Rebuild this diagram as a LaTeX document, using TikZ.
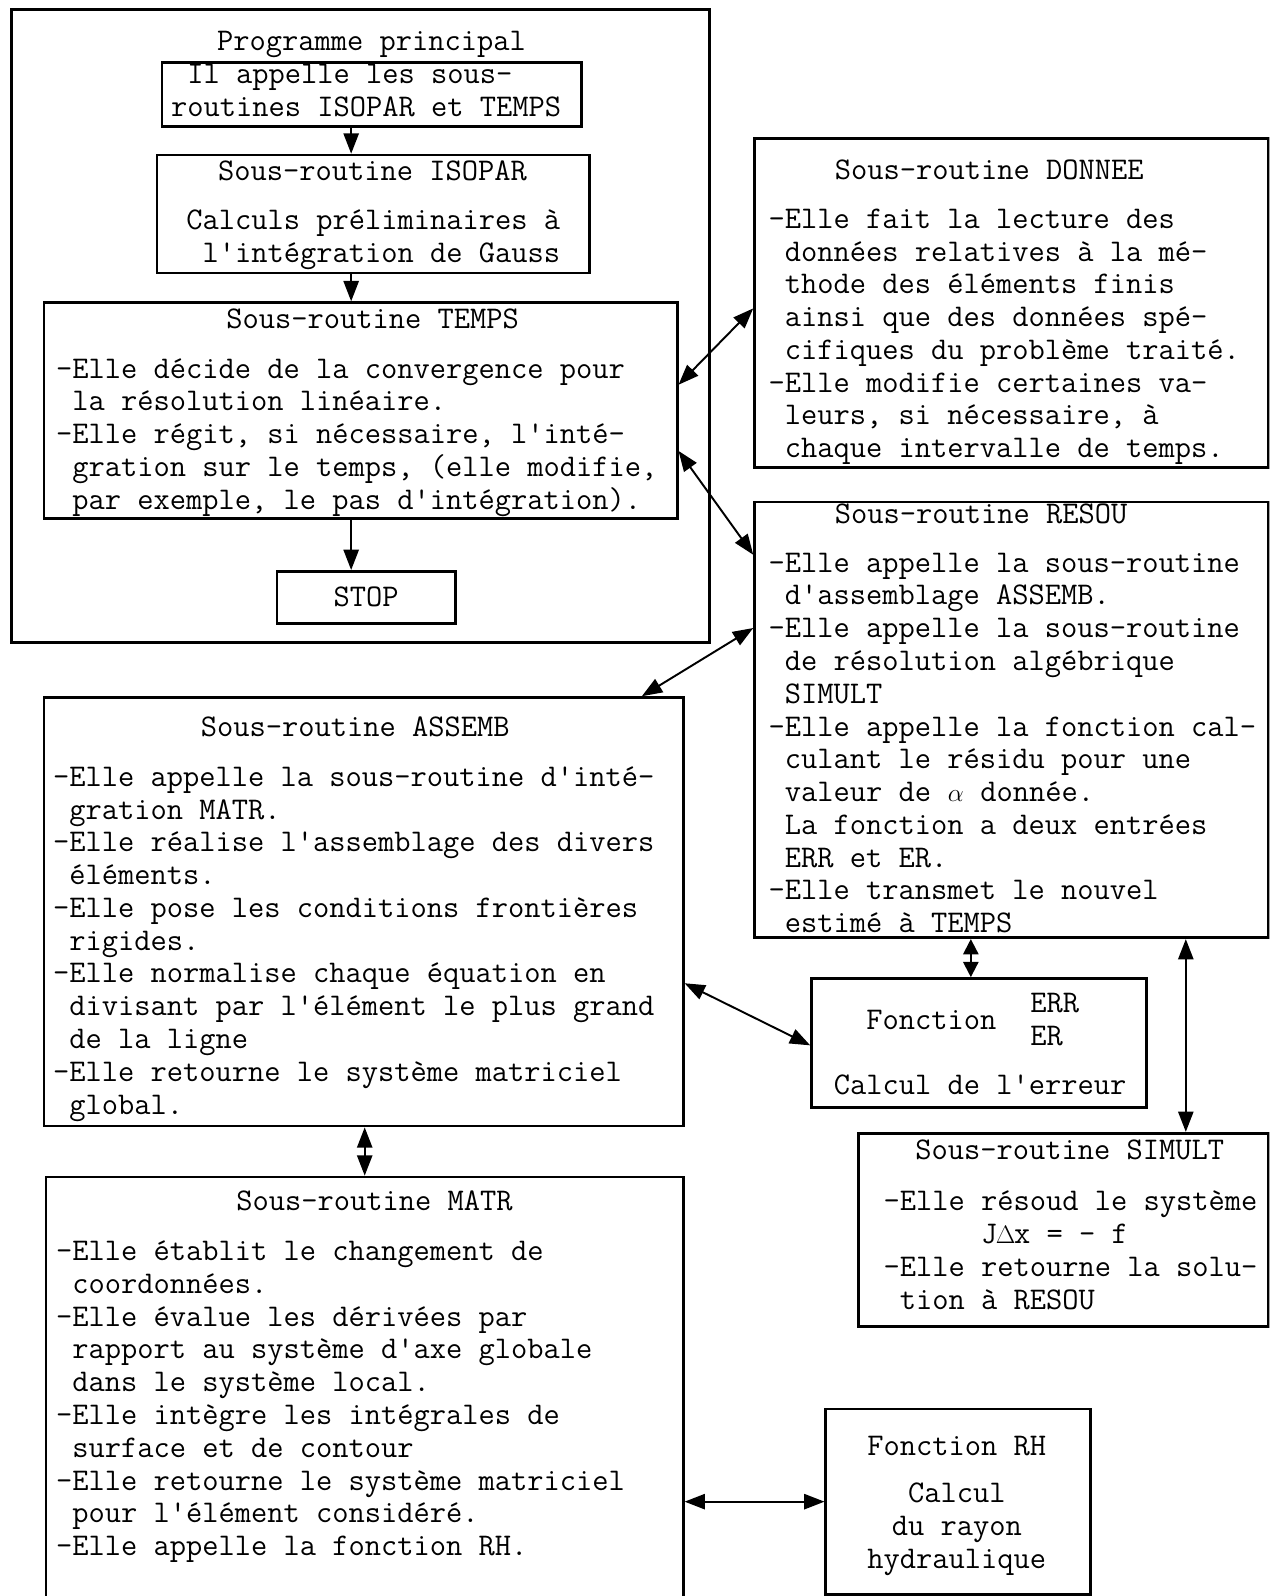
\documentclass[tikz,border=0pt]{standalone}
\usepackage{fontspec}
\usepackage{amsmath}
\usetikzlibrary{arrows.meta, positioning, calc}

\newcommand{\machine}{\fontsize{31}{32.2}\selectfont\ttfamily\addfontfeature{FakeBold=0.6}\frenchspacing}

\begin{document}
\begin{tikzpicture}[
  x=1pt, y=-1pt, >={Triangle[length=20pt, width=15pt]},
  cadre/.style={draw, line width=2.6pt, anchor=north west, inner sep=0pt},
  titre/.style={font=\machine, inner sep=0pt, text height=19pt, text depth=0pt},
  corps/.style={font=\machine, align=left, inner sep=0pt, anchor=north west},
  centre/.style={font=\machine, align=center, inner sep=0pt, anchor=north},
  fleche/.style={->, line width=1.9pt},
  lien/.style={<->, line width=1.9pt},
]
\fill[white] (0,0) rectangle (1247,1568);
\useasboundingbox (0,0) rectangle (1247,1568);
\clip (0,0) rectangle (1247,1568);
% --- Programme principal ---
\node[cadre, minimum width=686, minimum height=622] (prog) at (10,8) {};
\node[titre] (progt) at (365,40) {Programme principal};
\node[cadre, minimum width=412, minimum height=63] (appel) at (158,60) {};
\node[corps] (appelc) at (168,63) {~Il appelle les sous-\\routines ISOPAR et TEMPS};
\node[cadre, minimum width=425, minimum height=116] (isopar) at (153,151) {};
\node[titre] (isopart) at (366,168) {Sous-routine ISOPAR};
\node[corps] (isoparc) at (183,206) {Calculs préliminaires à\\~l'intégration de Gauss};
\node[cadre, minimum width=622, minimum height=212] (temps) at (42,296) {};
\node[titre] (tempst) at (366,313) {Sous-routine TEMPS};
\node[corps] (tempsc) at (55,352)
  {-Elle décide de la convergence pour\\~la résolution linéaire.\\-Elle régit, si nécessaire, l'inté-\\~gration sur le temps, (elle modifie,\\~par exemple, le pas d'intégration).};
\node[cadre, minimum width=175, minimum height=51] (stop) at (271,560) {};
\node[titre] (stopt) at (stop.center) {STOP};
\coordinate (axe) at (345,0);
\draw[fleche] (axe |- appel.south) -- (axe |- isopar.north);
\draw[fleche] (axe |- isopar.south) -- (axe |- temps.north);
\draw[fleche] (axe |- temps.south) -- (axe |- stop.north);
% --- Colonne droite ---
\node[cadre, minimum width=505, minimum height=323] (donnee) at (740,135) {};
\node[titre] (donneet) at (972,167) {Sous-routine DONNEE};
\node[corps] (donneec) at (755,205)
  {-Elle fait la lecture des\\~données relatives à la mé-\\~thode des éléments finis\\~ainsi que des données spé-\\~cifiques du problème traité.\\-Elle modifie certaines va-\\~leurs, si nécessaire, à\\~chaque intervalle de temps.};
\node[cadre, minimum width=505, minimum height=428] (resou) at (740,492) {};
\node[titre] (resout) at (964,505) {Sous-routine RESOU};
\node[corps] (resouc) at (755,543)
  {-Elle appelle la sous-routine\\~d'assemblage ASSEMB.\\-Elle appelle la sous-routine\\~de résolution algébrique\\~SIMULT\\-Elle appelle la fonction cal-\\~culant le résidu pour une\\~valeur de \makebox[0.525em]{$\alpha$} donnée.\\~La fonction a deux entrées\\~ERR et ER.\\-Elle transmet le nouvel\\~estimé à TEMPS};
\node[cadre, minimum width=329, minimum height=127] (errf) at (796,960) {};
\node[titre] (errft) at (915,1002) {Fonction};
\node[corps] (errfn) at (1012,976) {ERR\\ER};
\node[titre] (errfc) at (963,1066) {Calcul de l'erreur};
\node[cadre, minimum width=403, minimum height=190] (simult) at (842,1112) {};
\node[titre] (simultt) at (1051,1130) {Sous-routine SIMULT};
\node[corps] (simultc) at (868,1170)
  {-Elle résoud le système\\~~~~~~J\makebox[0.525em]{\fontsize{25}{25}\selectfont$\Delta$}x = - f\\-Elle retourne la solu-\\~tion à RESOU};
\node[cadre, minimum width=260, minimum height=182] (rh) at (810,1383) {};
\node[titre] (rht) at (940,1420) {Fonction RH};
\node[centre] (rhc) at (940,1457) {Calcul\\du rayon\\hydraulique};
% --- Colonne gauche ---
\node[cadre, minimum width=628, minimum height=421] (assemb) at (42,684) {};
\node[titre] (assembt) at (349,714) {Sous-routine ASSEMB};
\node[corps] (assembc) at (52,753)
  {-Elle appelle la sous-routine d'inté-\\~gration MATR.\\-Elle réalise l'assemblage des divers\\~éléments.\\-Elle pose les conditions frontières\\~rigides.\\-Elle normalise chaque équation en\\~divisant par l'élément le plus grand\\~de la ligne\\-Elle retourne le système matriciel\\~global.};
\node[cadre, minimum width=626, minimum height=500] (matr) at (44,1155) {};
\node[titre] (matrt) at (368,1180) {Sous-routine MATR};
\node[corps] (matrc) at (55,1219)
  {-Elle établit le changement de\\~coordonnées.\\-Elle évalue les dérivées par\\~rapport au système d'axe globale\\~dans le système local.\\-Elle intègre les intégrales de\\~surface et de contour\\-Elle retourne le système matriciel\\~pour l'élément considéré.\\-Elle appelle la fonction RH.};
% --- Liaisons ---
\draw[lien] ([yshift=-82pt]temps.north east) -- ([yshift=-168pt]donnee.north west);
\draw[lien] ([yshift=-147pt]temps.north east) -- ([yshift=-53pt]resou.north west);
\draw[lien] ([xshift=-42pt]assemb.north east) -- ([yshift=-125pt]resou.north west);
\coordinate (errhaut) at ([xshift=-8pt]errf.north);
\draw[lien, >={Triangle[length=15pt, width=15pt]}] (errhaut |- resou.south) -- (errhaut);
\coordinate (simhaut) at ([xshift=323pt]simult.north west);
\draw[lien] (simhaut |- resou.south) -- (simhaut);
\draw[lien] ([yshift=-282pt]assemb.north east) -- ([yshift=-67pt]errf.north west);
\draw[lien] (matr.north |- assemb.south) -- (matr.north);
\draw[lien] (rh.west -| matr.east) -- (rh.west);
\end{tikzpicture}
\end{document}
